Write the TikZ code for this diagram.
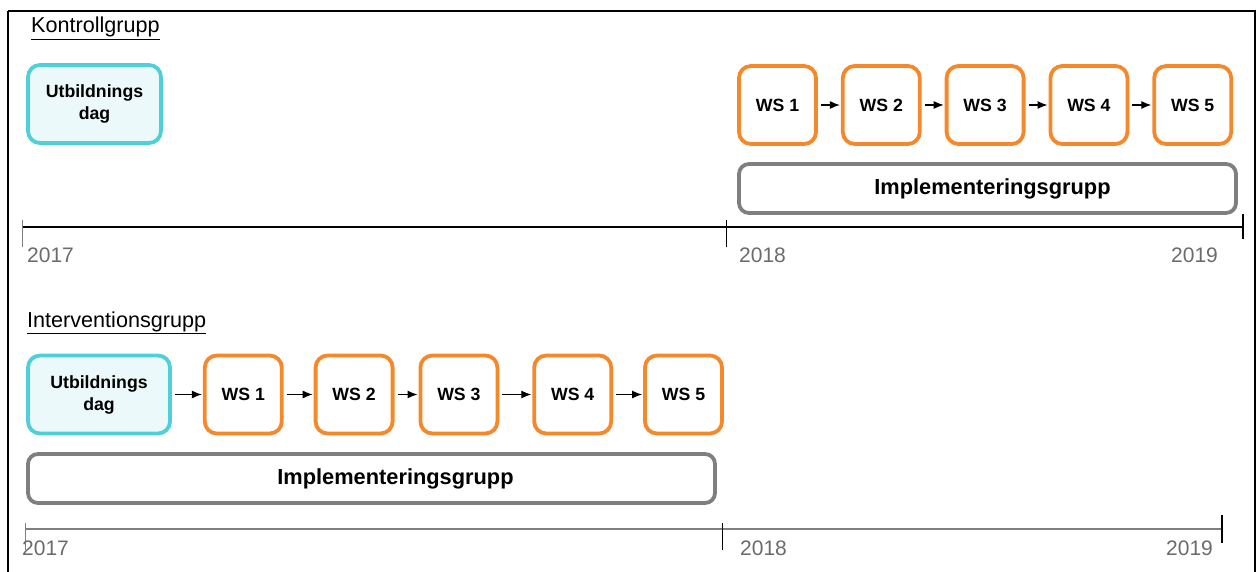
\documentclass[tikz,border=0pt]{standalone}
\usepackage{fontspec}
\setmainfont{Liberation Sans}
\usetikzlibrary{positioning,arrows.meta}

\definecolor{utbcyan}{HTML}{4FD0D8}
\definecolor{utbfill}{HTML}{EBF9FA}
\definecolor{wsorange}{HTML}{F5882B}
\definecolor{implgray}{HTML}{7F7F7F}
\definecolor{yeargray}{HTML}{6B6B6B}

\tikzset{
  utbbox/.style={draw=utbcyan, fill=utbfill, line width=3.8pt, rounded corners=12pt, align=center, inner sep=0pt, minimum height=78pt, font=\fontsize{17.7}{22}\selectfont\bfseries},
  wsbox/.style={draw=wsorange, line width=3.8pt, rounded corners=12pt, inner sep=0pt, minimum width=77pt, minimum height=78pt, font=\fontsize{17.7}{22}\selectfont\bfseries},
  implbox/.style={draw=implgray, line width=3.8pt, rounded corners=10pt, inner sep=0pt, minimum height=49pt},
  impltext/.style={font=\fontsize{21.8}{24}\selectfont\bfseries},
  flow/.style={-{Latex[length=10pt,width=8pt]}, line width=1.2pt, shorten <=3pt, shorten >=1pt},
  year/.style={anchor=base west, inner sep=0pt, text=yeargray, font=\fontsize{21}{24}\selectfont},
  grouplabel/.style={anchor=base west, inner sep=0pt, font=\fontsize{21.6}{24}\selectfont},
}

\begin{document}
\begin{tikzpicture}[x=1pt, y=-1pt]
    \useasboundingbox (0,0) rectangle (1258,572);
    \draw[line width=2pt] (8,572) -- (8,11);
    \draw[line width=1.2pt] (8,11) -- (1255,11) -- (1255,572);

    % Kontrollgrupp
    \node [grouplabel] (kontroll) at (31,33) {\underline{Kontrollgrupp}};
    \node [utbbox, minimum width=133pt] (kutb) at (94.5,104) {Utbildnings\\dag};

    \node [wsbox] (kws1) at (777.5,105) {WS 1};
    \node [wsbox, right=23pt of kws1] (kws2) {WS 2};
    \node [wsbox, right=23pt of kws2] (kws3) {WS 3};
    \node [wsbox, right=23pt of kws3] (kws4) {WS 4};
    \node [wsbox, right=23pt of kws4] (kws5) {WS 5};
    \foreach \a/\b in {1/2,2/3,3/4,4/5}
        \draw[flow] (kws\a) -- (kws\b);

    \node [implbox, minimum width=497pt] (kimpl) at (987.5,188.5) {};
    \node [impltext, xshift=5pt] (kimpltext) at (kimpl) {Implementeringsgrupp};

    \coordinate (kt0) at (22,227);
    \coordinate (kt1) at (726,227);
    \coordinate (kt2) at (1243,227);
    \draw[line width=1.2pt] (kt0) -- (kt2);
    \draw[line width=0.9pt, implgray] ([yshift=-20pt]kt0) -- ([yshift=7pt]kt0);
    \draw[line width=0.9pt] ([yshift=-20pt]kt1) -- ([yshift=7pt]kt1);
    \draw[line width=1.4pt] ([yshift=-12pt]kt2) -- ([yshift=13pt]kt2);
    \node [year] (ky0) at (27,262) {2017};
    \node [year] (ky1) at (739,262) {2018};
    \node [year] (ky2) at (1171,262) {2019};

    % Interventionsgrupp
    \node [grouplabel] (intervention) at (27,327) {\underline{Interventionsgrupp}};
    \node [utbbox, minimum width=142pt] (iutb) at (99,394.5) {Utbildnings\\dag};

    \node [wsbox, right=31pt of iutb] (iws1) {WS 1};
    \node [wsbox, right=30pt of iws1] (iws2) {WS 2};
    \node [wsbox, right=24pt of iws2] (iws3) {WS 3};
    \node [wsbox, right=33pt of iws3] (iws4) {WS 4};
    \node [wsbox, right=30pt of iws4] (iws5) {WS 5};
    \draw[flow] (iutb) -- (iws1);
    \foreach \a/\b in {1/2,2/3,3/4,4/5}
        \draw[flow] (iws\a) -- (iws\b);

    \node [implbox, minimum width=687pt] (iimpl) at (371.5,478.5) {};
    \node [impltext, xshift=24pt] (iimpltext) at (iimpl) {Implementeringsgrupp};

    \coordinate (it0) at (25,529);
    \coordinate (it1) at (722,529);
    \coordinate (it2) at (1222,529);
    \draw[line width=2pt, implgray] (it0) -- (it2);
    \draw[line width=0.9pt, implgray] ([yshift=-21pt]it0) -- ([yshift=6pt]it0);
    \draw[line width=0.9pt] ([yshift=-21pt]it1) -- ([yshift=6pt]it1);
    \draw[line width=1.6pt] ([yshift=-14pt]it2) -- ([yshift=14pt]it2);
    \node [year] (iy0) at (22,555) {2017};
    \node [year] (iy1) at (740,555) {2018};
    \node [year] (iy2) at (1166,555) {2019};
\end{tikzpicture}
\end{document}
